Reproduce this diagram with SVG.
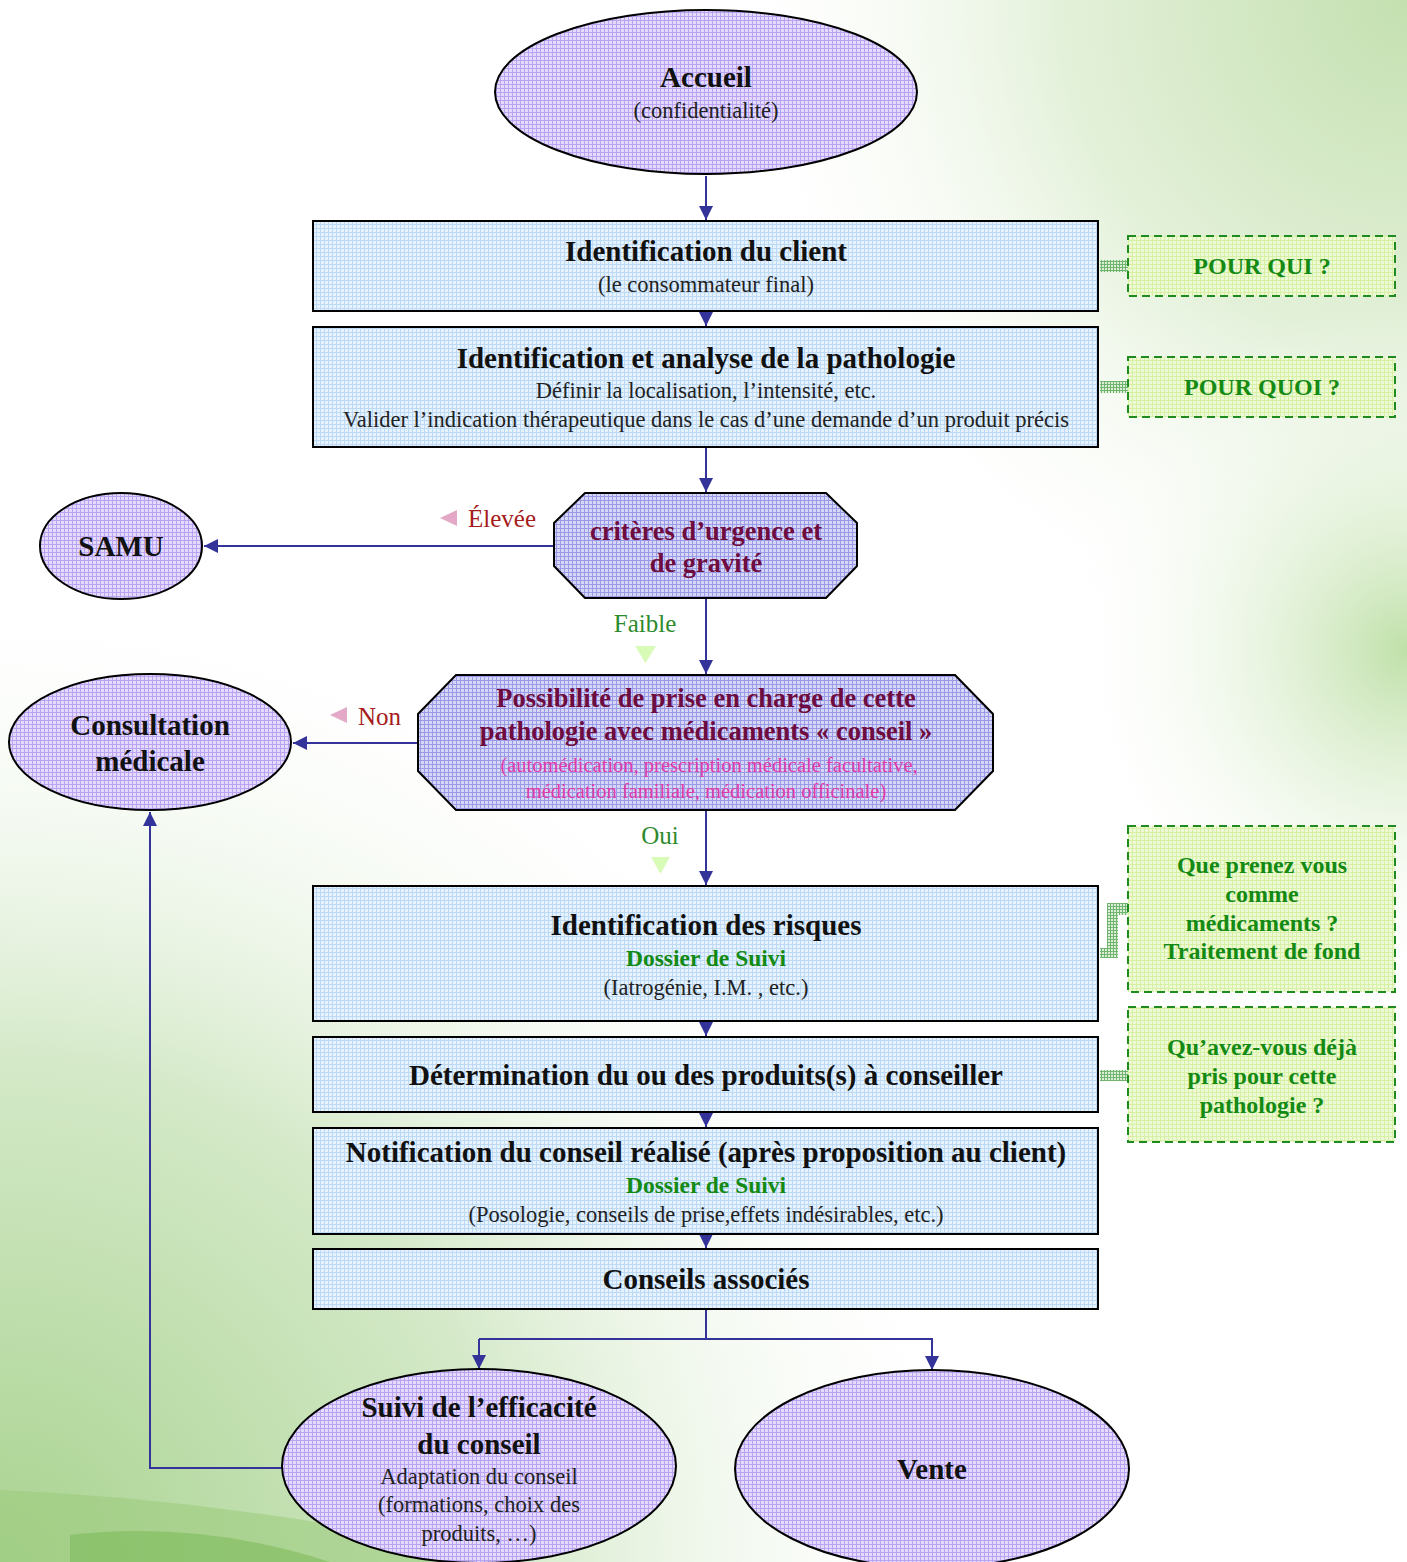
<svg xmlns="http://www.w3.org/2000/svg" width="1407" height="1562" viewBox="0 0 1407 1562">
<defs>
  <pattern id="pEll" width="4" height="4" patternUnits="userSpaceOnUse">
    <rect width="4" height="4" fill="#e4dafc"/>
    <path d="M0 0.5H4M0.5 0V4" stroke="#b9a3f2" stroke-width="1"/>
  </pattern>
  <pattern id="pOct" width="4" height="4" patternUnits="userSpaceOnUse">
    <rect width="4" height="4" fill="#d6d6f6"/>
    <path d="M0 0.5H4M0.5 0V4" stroke="#9a9ae6" stroke-width="1"/>
  </pattern>
  <pattern id="pBox" width="4" height="4" patternUnits="userSpaceOnUse">
    <rect width="4" height="4" fill="#e6f2fd"/>
    <path d="M0 0.5H4M0.5 0V4" stroke="#bcdaf6" stroke-width="1"/>
  </pattern>
  <pattern id="pSide" width="4" height="4" patternUnits="userSpaceOnUse">
    <rect width="4" height="4" fill="#eef9d6"/>
    <path d="M0 0.5H4M0.5 0V4" stroke="#d6f0a6" stroke-width="1"/>
  </pattern>
  <pattern id="pLink" width="3" height="3" patternUnits="userSpaceOnUse">
    <rect width="3" height="3" fill="#dcefd6"/>
    <path d="M0 0.5H3M0.5 0V3" stroke="#6fb56f" stroke-width="1"/>
  </pattern>
  <radialGradient id="gTR" cx="1407" cy="0" r="700" gradientUnits="userSpaceOnUse">
    <stop offset="0" stop-color="#c4e0b0"/>
    <stop offset="0.5" stop-color="#e4f1da"/>
    <stop offset="1" stop-color="#ffffff" stop-opacity="0"/>
  </radialGradient>
  <radialGradient id="gR" cx="1407" cy="650" r="350" gradientUnits="userSpaceOnUse">
    <stop offset="0" stop-color="#bfe0a8"/>
    <stop offset="1" stop-color="#ffffff" stop-opacity="0"/>
  </radialGradient>
  <radialGradient id="gBL" cx="0" cy="1562" r="1000" gradientUnits="userSpaceOnUse">
    <stop offset="0" stop-color="#a9d390"/>
    <stop offset="0.5" stop-color="#d4e9c8"/>
    <stop offset="1" stop-color="#ffffff" stop-opacity="0"/>
  </radialGradient>
  <marker id="arr" viewBox="0 0 10 10" refX="10" refY="5" markerWidth="7" markerHeight="7" orient="auto" markerUnits="strokeWidth">
    <path d="M0 0L10 5L0 10z" fill="#333399"/>
  </marker>
  <style>
    text { font-family: "Liberation Serif", "DejaVu Serif", serif; text-anchor: middle; }
    .t { font-weight: bold; font-size: 29px; fill: #111; }
    .s { font-size: 22.5px; fill: #222; }
    .ds { font-weight: bold; font-size: 23.5px; fill: #138a13; }
    .oc { font-weight: bold; font-size: 26.5px; fill: #6e0c40; }
    .pk { font-size: 20.5px; fill: #e03aa8; }
    .q { font-weight: bold; font-size: 24px; fill: #138a13; }
    .red { font-size: 25px; fill: #a51c1c; text-anchor: start; }
    .grn { font-size: 25px; fill: #2d8a2d; }
    .ell { fill: url(#pEll); stroke: #000; stroke-width: 2; }
    .oct { fill: url(#pOct); stroke: #000; stroke-width: 2; }
    .box { fill: url(#pBox); stroke: #000; stroke-width: 2; }
    .side { fill: url(#pSide); stroke: #1f8a1f; stroke-width: 2; stroke-dasharray: 8 5; }
    .con { fill: none; stroke: #333399; stroke-width: 2; }
    .arr { marker-end: url(#arr); }
  </style>
</defs>

<g id="background">
  <rect width="1407" height="1562" fill="#ffffff"/>
  <rect width="1407" height="1562" fill="url(#gTR)"/>
  <rect width="1407" height="1562" fill="url(#gR)"/>
  <rect width="1407" height="1562" fill="url(#gBL)"/>
  <path d="M0 1490 Q 250 1500 520 1562 L0 1562 Z" fill="#9ccb7e" opacity="0.6"/>
  <path d="M70 1535 Q 200 1520 330 1562 L70 1562 Z" fill="#7fbb5c" opacity="0.6"/>
</g>

<g id="connectors">
  <path class="con arr" d="M706 176V220"/>
  <path class="con arr" d="M706 311V326"/>
  <path class="con arr" d="M706 447V492"/>
  <path class="con arr" d="M554 546H204"/>
  <path class="con arr" d="M706 598V674"/>
  <path class="con arr" d="M418 743H293"/>
  <path class="con arr" d="M706 810V885"/>
  <path class="con arr" d="M706 1021V1036"/>
  <path class="con arr" d="M706 1112V1127"/>
  <path class="con arr" d="M706 1234V1248"/>
  <path class="con" d="M706 1309V1339H479"/>
  <path class="con arr" d="M479 1339V1369"/>
  <path class="con arr" d="M706 1339H932V1370"/>
  <path class="con arr" d="M282 1468H150V812"/>
  <rect x="1100" y="260" width="28" height="12" fill="url(#pLink)"/>
  <rect x="1100" y="381" width="28" height="12" fill="url(#pLink)"/>
  <path d="M1100 948H1107V903H1128V915H1118V958H1100Z" fill="url(#pLink)"/>
  <rect x="1100" y="1070" width="28" height="11" fill="url(#pLink)"/>
</g>

<g id="label-elevee">
  <path d="M440 518L457 510V526Z" fill="#e3a9c6"/>
  <text class="red" x="468" y="527">Élevée</text>
</g>
<g id="label-faible">
  <text class="grn" x="645" y="632">Faible</text>
  <path d="M635 646H656L645.5 663Z" fill="#d9fbb8"/>
</g>
<g id="label-non">
  <path d="M330 715L347 707V723Z" fill="#e3a9c6"/>
  <text class="red" x="358" y="725">Non</text>
</g>
<g id="label-oui">
  <text class="grn" x="660" y="844">Oui</text>
  <path d="M651 857H670L660.5 874Z" fill="#d9fbb8"/>
</g>

<g id="accueil">
  <ellipse class="ell" cx="706" cy="92" rx="211" ry="82"/>
  <text class="t" x="706" y="87">Accueil</text>
  <text class="s" x="706" y="118">(confidentialité)</text>
</g>

<g id="identification-client">
  <rect class="box" x="313" y="221" width="785" height="90"/>
  <text class="t" x="706" y="261">Identification du client</text>
  <text class="s" x="706" y="292">(le consommateur final)</text>
</g>

<g id="identification-pathologie">
  <rect class="box" x="313" y="327" width="785" height="120"/>
  <text class="t" x="706" y="368">Identification et analyse de la pathologie</text>
  <text class="s" x="706" y="398">Définir la localisation, l’intensité, etc.</text>
  <text class="s" x="706" y="427">Valider l’indication thérapeutique dans le cas d’une demande d’un produit précis</text>
</g>

<g id="criteres">
  <path class="oct" d="M585 493H826L857 523V566L826 598H585L554 566V523Z"/>
  <text class="oc" x="706" y="540">critères d’urgence et</text>
  <text class="oc" x="706" y="572">de gravité</text>
</g>

<g id="samu">
  <ellipse class="ell" cx="121" cy="546" rx="81" ry="53"/>
  <text class="t" x="121" y="556">SAMU</text>
</g>

<g id="possibilite">
  <path class="oct" d="M456 675H955L993 714V771L955 810H456L418 771V714Z"/>
  <text class="oc" x="706" y="707">Possibilité de prise en charge de cette</text>
  <text class="oc" x="706" y="740">pathologie avec médicaments « conseil »</text>
  <text class="pk" x="709" y="772">(automédication, prescription médicale facultative,</text>
  <text class="pk" x="706" y="798">médication familiale, médication officinale)</text>
</g>

<g id="consultation">
  <ellipse class="ell" cx="150" cy="742" rx="141" ry="68"/>
  <text class="t" x="150" y="735">Consultation</text>
  <text class="t" x="150" y="771">médicale</text>
</g>

<g id="identification-risques">
  <rect class="box" x="313" y="886" width="785" height="135"/>
  <text class="t" x="706" y="935">Identification des risques</text>
  <text class="ds" x="706" y="966">Dossier de Suivi</text>
  <text class="s" x="706" y="995">(Iatrogénie, I.M. , etc.)</text>
</g>

<g id="determination">
  <rect class="box" x="313" y="1037" width="785" height="75"/>
  <text class="t" x="706" y="1085">Détermination du ou des produits(s) à conseiller</text>
</g>

<g id="notification">
  <rect class="box" x="313" y="1128" width="785" height="106"/>
  <text class="t" x="706" y="1162">Notification du conseil réalisé (après proposition au client)</text>
  <text class="ds" x="706" y="1193">Dossier de Suivi</text>
  <text class="s" x="706" y="1222">(Posologie, conseils de prise,effets indésirables, etc.)</text>
</g>

<g id="conseils-associes">
  <rect class="box" x="313" y="1249" width="785" height="60"/>
  <text class="t" x="706" y="1289">Conseils associés</text>
</g>

<g id="suivi">
  <ellipse class="ell" cx="479" cy="1466" rx="197" ry="97"/>
  <text class="t" x="479" y="1417">Suivi de l’efficacité</text>
  <text class="t" x="479" y="1454">du conseil</text>
  <text class="s" x="479" y="1484">Adaptation du conseil</text>
  <text class="s" x="479" y="1512">(formations, choix des</text>
  <text class="s" x="479" y="1541">produits, …)</text>
</g>

<g id="vente">
  <ellipse class="ell" cx="932" cy="1469" rx="197" ry="99"/>
  <text class="t" x="932" y="1479">Vente</text>
</g>

<g id="pour-qui">
  <rect class="side" x="1128" y="236" width="267" height="60"/>
  <text class="q" x="1262" y="274">POUR QUI ?</text>
</g>

<g id="pour-quoi">
  <rect class="side" x="1128" y="357" width="267" height="60"/>
  <text class="q" x="1262" y="395">POUR QUOI ?</text>
</g>

<g id="que-prenez">
  <rect class="side" x="1128" y="826" width="267" height="166"/>
  <text class="q" x="1262" y="873">Que prenez vous</text>
  <text class="q" x="1262" y="902">comme</text>
  <text class="q" x="1262" y="931">médicaments ?</text>
  <text class="q" x="1262" y="959">Traitement de fond</text>
</g>

<g id="quavez-vous">
  <rect class="side" x="1128" y="1007" width="267" height="135"/>
  <text class="q" x="1262" y="1055">Qu’avez-vous déjà</text>
  <text class="q" x="1262" y="1084">pris pour cette</text>
  <text class="q" x="1262" y="1113">pathologie ?</text>
</g>
</svg>
